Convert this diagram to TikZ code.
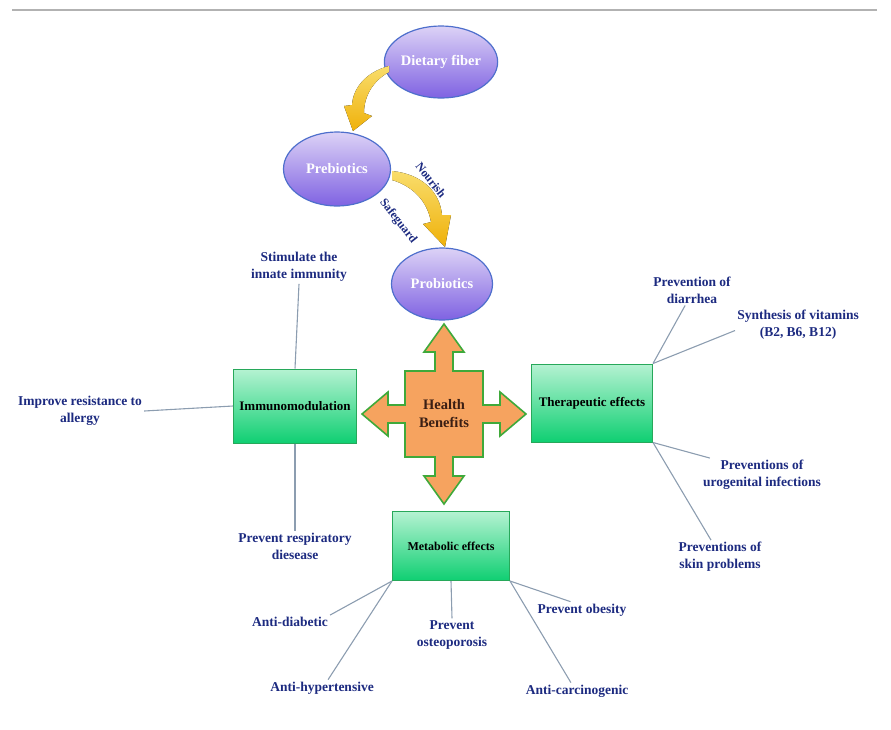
\documentclass[tikz,border=0pt]{standalone}
\usepackage{fontspec}
\setmainfont{Liberation Serif}
\usetikzlibrary{shapes.geometric,positioning}

\definecolor{navy}{RGB}{28,42,128}
\definecolor{linkgray}{RGB}{140,157,176}
\definecolor{boxline}{RGB}{39,168,90}
\definecolor{boxtop}{RGB}{181,242,210}
\definecolor{boxbot}{RGB}{15,207,114}
\definecolor{bubbleline}{RGB}{78,111,204}
\definecolor{bubbletop}{RGB}{220,210,246}
\definecolor{bubblebot}{RGB}{127,98,226}
\definecolor{hbfill}{RGB}{246,163,95}
\definecolor{hbline}{RGB}{63,169,58}
\definecolor{hbtext}{RGB}{59,31,20}
\definecolor{goldtop}{RGB}{249,221,108}
\definecolor{goldbot}{RGB}{239,177,10}

\begin{document}
\begin{tikzpicture}[
  x=1pt, y=-1pt,
  font=\fontsize{13.5}{17}\selectfont\bfseries,
  bubble/.style={ellipse, draw=bubbleline, line width=1.2pt, top color=bubbletop, bottom color=bubblebot,
    text=white, font=\fontsize{14.5}{17}\selectfont\bfseries, minimum width=104pt, minimum height=72pt, inner sep=0pt},
  effbox/.style={draw=boxline, line width=1pt, top color=boxtop, bottom color=boxbot, text=black, inner sep=0pt},
  lbl/.style={text=navy, align=center, inner sep=2pt},
  link/.style={draw=linkgray, line width=1.1pt},
  flow/.style={top color=goldtop, bottom color=goldbot, draw=none},
  verb/.style={text=navy, font=\fontsize{12}{14}\selectfont\bfseries, rotate=-52, inner sep=0pt}
]
\useasboundingbox (0,0) rectangle (891,729);
\draw[line width=2pt, black!30] (12,10) -- (877,10);

% fibre -> prebiotics -> probiotics
\node[bubble, minimum width=102pt] (fiber) at (441,62) {Dietary fiber};
\node[bubble, minimum width=107pt, minimum height=74pt] (prebio) at (337,169) {Prebiotics};
\node[bubble, minimum width=101pt] (probio) at (442,284) {Probiotics};

\fill[flow] (389,66) .. controls (366,72) and (353,88) .. (352,105) -- (344,106) -- (353,131)
  -- (372,116) -- (364,113) .. controls (364,96) and (373,81) .. (389,72) -- cycle;
\fill[flow] (392,171) .. controls (422,174) and (440,192) .. (442,215) -- (451,215) -- (445,247)
  -- (423,224) -- (431,222) .. controls (427,200) and (412,186) .. (392,180) -- cycle;
\node[verb] (nourish) at (431,180) {Nourish};
\node[verb] (safe) at (398,221) {Safeguard};

% health benefits cross
\draw[shift={(444,414)}, fill=hbfill, draw=hbline, line width=1.6pt, line join=miter]
  (0,-90) -- (20,-62) -- (9,-62) -- (9,-43) -- (39,-43) -- (39,-9) -- (56,-9) -- (56,-22) -- (82,0)
  -- (56,22) -- (56,9) -- (39,9) -- (39,43) -- (9,43) -- (9,62) -- (20,62) -- (0,90) -- (-20,62)
  -- (-9,62) -- (-9,43) -- (-39,43) -- (-39,9) -- (-56,9) -- (-56,22) -- (-82,0) -- (-56,-22)
  -- (-56,-9) -- (-39,-9) -- (-39,-43) -- (-9,-43) -- (-9,-62) -- (-20,-62) -- cycle;
\node[text=hbtext, align=center, font=\fontsize{14.5}{18}\selectfont\bfseries] (hb) at (444,414) {Health\\Benefits};

% effect boxes
\node[effbox, minimum width=123pt, minimum height=74pt, font=\fontsize{13}{16}\selectfont\bfseries] (immu) at (295,406) {Immunomodulation};
\node[effbox, minimum width=121pt, minimum height=78pt, font=\fontsize{13}{16}\selectfont\bfseries] (thera) at (592,403) {Therapeutic effects};
\node[effbox, minimum width=117pt, minimum height=69pt, font=\fontsize{12}{15}\selectfont\bfseries] (meta) at (451,546) {Metabolic effects};

% immunomodulation
\node[lbl] (stim) at (299,267) {Stimulate the\\innate immunity};
\node[lbl] (allergy) at (80,411) {Improve resistance to\\allergy};
\node[lbl] (resp) at (295,546) {Prevent respiratory\\diesease};
\draw[link] (immu.north) -- (stim.south);
\draw[link] (immu.west) -- (allergy.east);
\draw[link] (immu.south) -- (resp.north);

% therapeutic effects
\node[lbl] (diar) at (692,290) {Prevention of\\diarrhea};
\node[lbl] (vita) at (798,325) {Synthesis of vitamins\\(B2, B6, B12)};
\node[lbl] (uro) at (762,475) {Preventions of\\urogenital infections};
\node[lbl] (skin) at (720,557) {Preventions of\\skin problems};
\draw[link] (thera.north east) -- (diar.246);
\draw[link] (thera.north east) -- (vita.185);
\draw[link] (thera.south east) -- (uro.162);
\draw[link] (thera.south east) -- (skin.118);

% metabolic effects
\node[lbl] (diab) at (290,622) {Anti-diabetic};
\node[lbl] (hyper) at (322,688) {Anti-hypertensive};
\node[lbl] (osteo) at (452,635) {Prevent\\osteoporosis};
\node[lbl] (obes) at (582,610) {Prevent obesity};
\node[lbl] (carc) at (577,691) {Anti-carcinogenic};
\draw[link] (meta.south west) -- (diab.north east);
\draw[link] (meta.south west) -- (hyper.54);
\draw[link] (meta.south) -- (osteo.north);
\draw[link] (meta.south east) -- (obes.144);
\draw[link] (meta.south east) -- (carc.126);
\end{tikzpicture}
\end{document}
